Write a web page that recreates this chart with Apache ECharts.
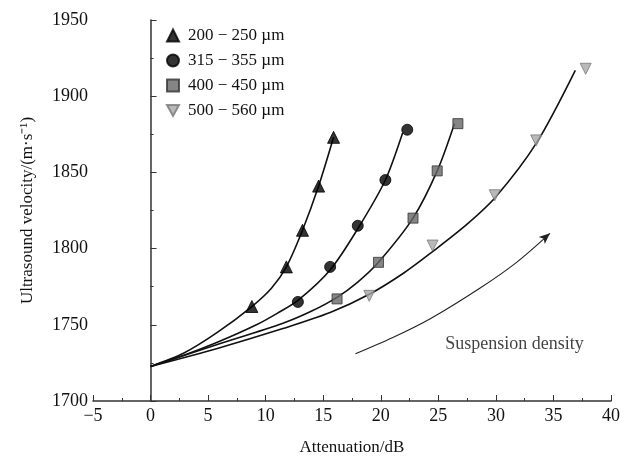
<!DOCTYPE html>
<html>
<head>
<meta charset="utf-8">
<script src="https://cdn.jsdelivr.net/npm/echarts@6/dist/echarts.min.js"></script>
<style>
  html, body { margin: 0; padding: 0; background: #fff; }
  #chart { width: 624px; height: 462px; }
</style>
</head>
<body>
<div id="chart"></div>
<script>
// particle size groups
var groups = ['200 − 250 µm', '315 − 355 µm', '400 − 450 µm', '500 − 560 µm'];

// measured points (attenuation in dB, velocity in m/s)
var g1X = [8.8, 11.8, 13.2, 14.6, 15.9];
var g1Y = [1762, 1788, 1812, 1841, 1873];
var g2X = [12.8, 15.6, 18.0, 20.4, 22.3];
var g2Y = [1765, 1788, 1815, 1845, 1878];
var g3X = [16.2, 19.8, 22.8, 24.9, 26.7];
var g3Y = [1767, 1791, 1820, 1851, 1882];
var g4X = [19.0, 24.5, 29.9, 33.5, 37.8];
var g4Y = [1769, 1802, 1835, 1871, 1918];

// fitted curves
var f1X = [0, 2.9, 5.8, 8.8, 10.5, 11.8, 13.2, 14.6, 15.9];
var f1Y = [1722.7, 1731.5, 1745, 1762, 1774, 1788, 1812, 1841, 1873];
var f2X = [0, 2.9, 5.8, 9.2, 11.0, 12.8, 15.6, 18.0, 20.4, 21.9];
var f2Y = [1722.7, 1730, 1738.5, 1750, 1757.5, 1766, 1786, 1813, 1845, 1876];
var f3X = [0, 5.8, 11.5, 14.0, 16.2, 18.0, 19.8, 22.8, 24.9, 26.4];
var f3Y = [1722.7, 1737, 1751, 1759, 1768, 1778, 1791, 1820, 1851, 1882];
var f4X = [0, 5.8, 11.5, 15.6, 19.0, 22.0, 24.5, 27.5, 30.0, 33.5, 36.9];
var f4Y = [1722.7, 1734.5, 1747.5, 1758, 1770, 1784, 1798, 1816, 1834, 1869, 1917];

// "suspension density" arrow
var arrowX = [17.8, 21.0, 24.3, 28.6, 31.8, 34.7];
var arrowY = [1731, 1741.5, 1754, 1774, 1791, 1810];
var noteText = 'Suspension density';
var notePos = [25.6, 1737];

function pairs(xs, ys) {
  return xs.map(function (x, i) { return [x, ys[i]]; });
}

var serif = 'Liberation Serif';
var downTri = 'path://M0,0 L10,0 L5,9 Z';

var dom = document.getElementById('chart');
var chart = echarts.init(dom, null, { renderer: 'canvas' });

function fitLine(xs, ys) {
  return {
    type: 'line',
    data: pairs(xs, ys),
    smooth: 0.3,
    symbol: 'none',
    silent: true,
    lineStyle: { color: '#111', width: 1.6 },
    z: 2
  };
}

function marks(name, xs, ys, symbol, size, fill, border) {
  return {
    name: name,
    type: 'scatter',
    data: pairs(xs, ys),
    symbol: symbol,
    symbolSize: size,
    itemStyle: { color: fill, borderColor: border, borderWidth: 1 },
    z: 5
  };
}

var arrowData = pairs(arrowX, arrowY).map(function (p, i, arr) {
  if (i === arr.length - 1) {
    return { value: p, symbol: 'arrow', symbolSize: [7, 11], symbolRotate: -49 };
  }
  return { value: p, symbol: 'none' };
});

var option = {
  animation: false,
  grid: { left: 93, right: 13, top: 20, bottom: 61 },
  legend: {
    data: groups,
    orient: 'vertical',
    left: 166,
    top: 27,
    padding: 0,
    itemWidth: 12,
    itemHeight: 12,
    itemGap: 8,
    textStyle: { fontFamily: serif, fontSize: 17, lineHeight: 17, color: '#111', padding: [0, 0, 0, 4] }
  },
  xAxis: {
    type: 'value',
    min: -5,
    max: 40,
    interval: 5,
    name: 'Attenuation/dB',
    nameLocation: 'middle',
    nameGap: 38,
    nameTextStyle: { fontFamily: serif, fontSize: 17, color: '#111' },
    axisLine: { lineStyle: { color: '#333', width: 1.5 } },
    axisTick: { inside: true, length: 6, lineStyle: { color: '#333' } },
    minorTick: { show: true, splitNumber: 2, length: 3, lineStyle: { color: '#333' } },
    axisLabel: {
      fontFamily: serif, fontSize: 18, color: '#111', margin: 6,
      formatter: function (v) { return v < 0 ? '−' + Math.abs(v) : String(v); }
    },
    splitLine: { show: false }
  },
  yAxis: {
    type: 'value',
    min: 1700,
    max: 1950,
    interval: 50,
    name: 'Ultrasound velocity/(m·s⁻¹)',
    nameLocation: 'middle',
    nameGap: 57,
    nameTextStyle: { fontFamily: serif, fontSize: 17, color: '#111' },
    axisLine: { show: true, lineStyle: { color: '#333', width: 1.5 } },
    axisTick: { show: true, inside: true, length: 6, lineStyle: { color: '#333' } },
    minorTick: { show: true, splitNumber: 2, length: 3, lineStyle: { color: '#333' } },
    axisLabel: {
      fontFamily: serif, fontSize: 18, color: '#111', margin: 5,
      formatter: function (v) { return String(v); }
    },
    splitLine: { show: false }
  },
  series: [
    fitLine(f1X, f1Y),
    fitLine(f2X, f2Y),
    fitLine(f3X, f3Y),
    fitLine(f4X, f4Y),
    marks(groups[0], g1X, g1Y, 'triangle', 12, '#000', '#000'),
    marks(groups[1], g2X, g2Y, 'circle', 11, '#000', '#000'),
    marks(groups[2], g3X, g3Y, 'rect', 10, '#666', '#333'),
    marks(groups[3], g4X, g4Y, downTri, 11, '#a8a8a8', '#777'),
    {
      type: 'line',
      data: arrowData,
      smooth: 0.3,
      showSymbol: true,
      silent: true,
      lineStyle: { color: '#222', width: 1.1 },
      itemStyle: { color: '#222' },
      z: 2
    },
    {
      type: 'scatter',
      data: [notePos],
      symbolSize: 0,
      silent: true,
      label: {
        show: true,
        position: 'right',
        distance: 0,
        formatter: noteText,
        fontFamily: serif,
        fontSize: 18,
        color: '#111'
      }
    }
  ]
};

chart.setOption(option);
window.addEventListener('resize', chart.resize);
</script>
</body>
</html>
